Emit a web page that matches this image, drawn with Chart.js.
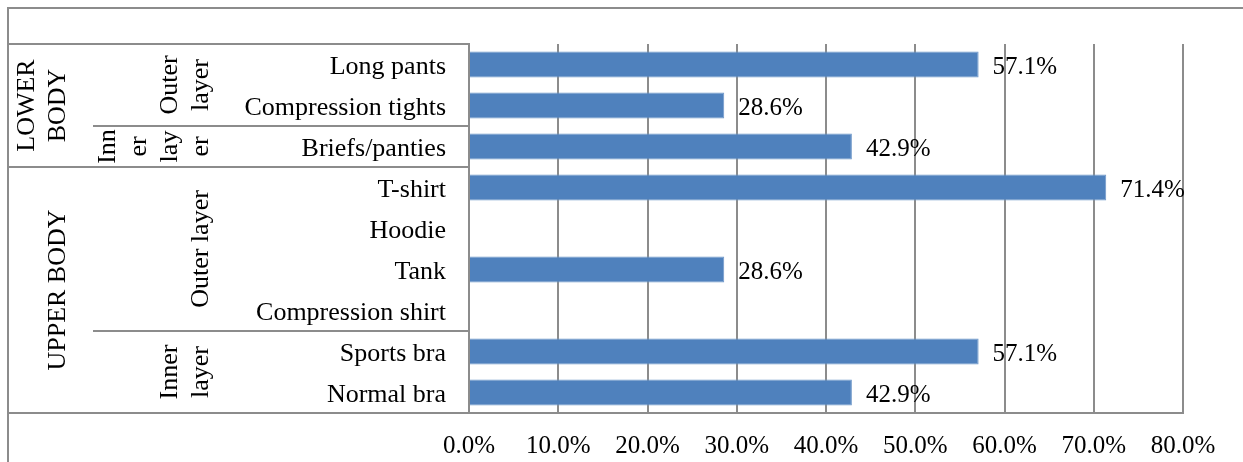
<!DOCTYPE html>
<html>
<head>
<meta charset="utf-8">
<script src="https://cdn.jsdelivr.net/npm/chart.js@4"></script>
<style>
  html, body { margin: 0; padding: 0; background: #fff; }
</style>
</head>
<body>
<canvas id="chart" width="1243" height="462"></canvas>
<script>
const items = ["Long pants", "Compression tights", "Briefs/panties", "T-shirt", "Hoodie", "Tank", "Compression shirt", "Sports bra", "Normal bra"]
const shares = [57.1, 28.6, 42.9, 71.4, null, 28.6, null, 57.1, 42.9]
const xTicks = [0, 10, 20, 30, 40, 50, 60, 70, 80]

// outer grouping (body part) and inner grouping (layer), by item index
const bodyGroups = [
  { lines: ["LOWER", "BODY"], from: 0, to: 2 },
  { lines: ["UPPER BODY"], from: 3, to: 8 }
]
const layerGroups = [
  { lines: ["Outer", "layer"], from: 0, to: 1 },
  { lines: ["Inn", "er", "lay", "er"], from: 2, to: 2 },
  { lines: ["Outer layer"], from: 3, to: 6 },
  { lines: ["Inner", "layer"], from: 7, to: 8 }
]

const SERIF = "'Liberation Serif', 'Times New Roman', serif"
const LINE = "#8c8c8c"
const BAR = "#4f81bd"

Chart.defaults.font.family = SERIF
Chart.defaults.color = "#000"

// draws the two outer levels of the category axis plus the frame lines
const categoryTree = {
  id: "categoryTree",
  afterDraw(chart) {
    const { ctx } = chart
    const y = chart.scales.y
    const band = (y.bottom - y.top) / items.length
    const edge = i => y.top + band * i
    const cols = [8, 93, 239, y.right]

    ctx.save()
    ctx.strokeStyle = LINE
    ctx.lineWidth = 2
    ctx.strokeRect(8, 8, chart.width, chart.height)

    const hline = (x0, x1, yy) => {
      ctx.beginPath()
      ctx.moveTo(x0, yy)
      ctx.lineTo(x1, yy)
      ctx.stroke()
    }
    hline(cols[0], cols[3], y.top)
    hline(cols[0], cols[3], y.bottom)
    bodyGroups.forEach(g => { if (g.from > 0) hline(cols[0], cols[3], edge(g.from)) })
    layerGroups.forEach(g => {
      if (!bodyGroups.some(b => b.from === g.from)) hline(cols[1], cols[3], edge(g.from))
    })

    ctx.fillStyle = "#000"
    ctx.font = "26px " + SERIF
    ctx.textAlign = "center"
    ctx.textBaseline = "alphabetic"
    const drawGroup = (g, lastBase) => {
      const cy = (edge(g.from) + edge(g.to + 1)) / 2
      g.lines.forEach((t, k) => {
        const bx = lastBase - (g.lines.length - 1 - k) * 31
        ctx.save()
        ctx.translate(bx, cy)
        ctx.rotate(-Math.PI / 2)
        ctx.fillText(t, 0, 0)
        ctx.restore()
      })
    }
    bodyGroups.forEach(g => drawGroup(g, cols[1] - 28))
    layerGroups.forEach(g => drawGroup(g, cols[2] - 31))
    ctx.restore()
  }
}

// percentage to the right of each bar
const valueLabels = {
  id: "valueLabels",
  afterDatasetsDraw(chart) {
    const { ctx } = chart
    const meta = chart.getDatasetMeta(0)
    ctx.save()
    ctx.fillStyle = "#000"
    ctx.font = "25px " + SERIF
    ctx.textAlign = "left"
    ctx.textBaseline = "middle"
    meta.data.forEach((bar, i) => {
      if (shares[i] == null) return
      ctx.fillText(shares[i].toFixed(1) + "%", bar.x + 14, bar.y + 3)
    })
    ctx.restore()
  }
}

new Chart(document.getElementById("chart"), {
  type: "bar",
  data: {
    labels: items,
    datasets: [{
      data: shares,
      backgroundColor: BAR,
      borderColor: "#6d96c8",
      borderWidth: 1,
      barPercentage: 0.64,
      categoryPercentage: 1
    }]
  },
  options: {
    indexAxis: "y",
    responsive: false,
    animation: false,
    devicePixelRatio: 1,
    layout: { padding: { top: 44, right: 60, left: 0, bottom: 0 } },
    plugins: { legend: { display: false }, tooltip: { enabled: false } },
    scales: {
      y: {
        grid: { display: false, drawTicks: false },
        border: { color: LINE, width: 2 },
        ticks: { font: { size: 26 }, padding: 23, labelOffset: 3 },
        afterFit(scale) { scale.width = 469 }
      },
      x: {
        min: 0,
        max: 80,
        afterBuildTicks(scale) { scale.ticks = xTicks.map(v => ({ value: v })) },
        grid: { color: LINE, lineWidth: 2, drawTicks: false },
        border: { color: LINE, width: 2 },
        ticks: { font: { size: 25 }, padding: 18, callback: v => v.toFixed(1) + "%" },
        afterFit(scale) { scale.height = 49 }
      }
    }
  },
  plugins: [categoryTree, valueLabels]
})
</script>
</body>
</html>
